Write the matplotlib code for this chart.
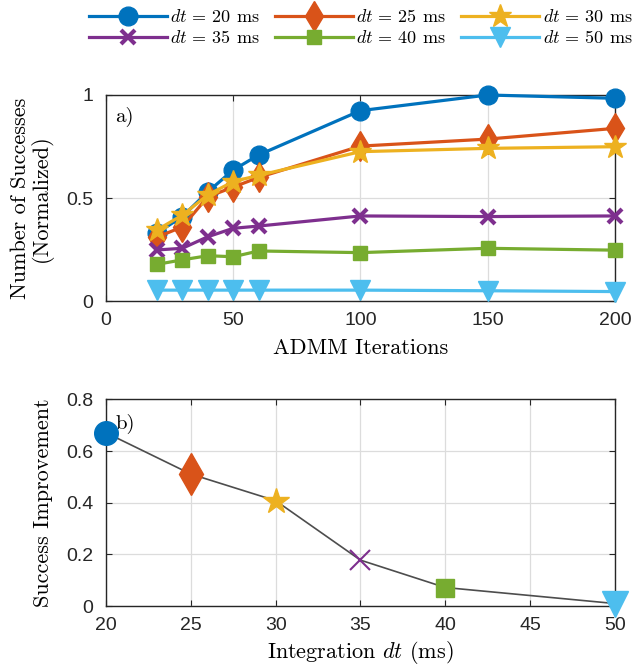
import matplotlib
matplotlib.use("Agg")
import matplotlib.pyplot as plt

plt.rcParams['font.family'] = 'serif'
plt.rcParams['font.serif'] = ['cmr10']
plt.rcParams['mathtext.fontset'] = 'cm'

# top panel data
iters = [20, 30, 40, 50, 60, 100, 150, 200]
dts = [20, 25, 30, 35, 40, 50]
succ_20 = [0.33, 0.41, 0.53, 0.636, 0.709, 0.924, 1.0, 0.984]
succ_25 = [0.31, 0.36, 0.506, 0.553, 0.60, 0.752, 0.786, 0.838]
succ_30 = [0.345, 0.417, 0.515, 0.58, 0.61, 0.725, 0.741, 0.749]
succ_35 = [0.248, 0.256, 0.312, 0.353, 0.364, 0.413, 0.41, 0.413]
succ_40 = [0.178, 0.20, 0.22, 0.215, 0.243, 0.235, 0.256, 0.247]
succ_50 = [0.053, 0.053, 0.053, 0.053, 0.053, 0.053, 0.05, 0.046]

# bottom panel data
improvement = [0.671, 0.511, 0.408, 0.178, 0.072, 0.01]

top_xticks = [0, 50, 100, 150, 200]
top_yticks = [0, 0.5, 1]
top_ylabels = ['0', '0.5', '1']
bot_xticks = [20, 25, 30, 35, 40, 45, 50]
bot_yticks = [0, 0.2, 0.4, 0.6, 0.8]
bot_ylabels = ['0', '0.2', '0.4', '0.6', '0.8']

colors = ['#0072BD', '#D95319', '#EDB120', '#7E2F8E', '#77AC30', '#4DBEEE']
markers = ['o', 'd', '*', 'x', 's', 'v']
top_ms = [13.5, 15, 17, 10, 10, 14]
bot_ms = [17, 21, 19, 14, 13, 19]
series = [succ_20, succ_25, succ_30, succ_35, succ_40, succ_50]
FS = 16
TICKFONT = dict(family='Liberation Sans', size=14, color='#262626')

fig = plt.figure(figsize=(6.36, 6.69), dpi=100)
ax1 = fig.add_axes([0.1667, 0.550, 0.800, 0.308])
ax2 = fig.add_axes([0.1667, 0.094, 0.800, 0.309])

for i in range(len(dts)):
    mew = 3 if markers[i] == 'x' else 1
    ax1.plot(iters, series[i], color=colors[i], marker=markers[i], lw=2.3,
             ms=top_ms[i], mew=mew, clip_on=False, zorder=3 + i,
             label=f'$dt$ = {dts[i]} ms')

ax1.set_xlim(0, 200)
ax1.set_ylim(0, 1)
ax1.set_xticks(top_xticks)
ax1.set_xticklabels([str(v) for v in top_xticks], **TICKFONT)
ax1.set_yticks(top_yticks)
ax1.set_yticklabels(top_ylabels, **TICKFONT)
ax1.set_xlabel('ADMM Iterations', fontsize=FS)
ax1.set_ylabel('Number of Successes\n(Normalized)', fontsize=FS, linespacing=1.0)
ax1.xaxis.set_label_coords(0.5, -0.18)
ax1.yaxis.set_label_coords(-0.104, 0.5)
ax1.text(0.018, 0.893, 'a)', transform=ax1.transAxes, fontsize=15, va='center')

ax2.plot(dts, improvement, color='#4d4d4d', lw=1.2, zorder=3)
for i in range(len(dts)):
    mew = 1.5 if markers[i] == 'x' else 1
    ax2.plot(dts[i], improvement[i], color=colors[i], marker=markers[i],
             ms=bot_ms[i], mew=mew, ls='none', clip_on=False, zorder=4)
ax2.set_xlim(20, 50)
ax2.set_ylim(0, 0.8)
ax2.set_xticks(bot_xticks)
ax2.set_xticklabels([str(v) for v in bot_xticks], **TICKFONT)
ax2.set_yticks(bot_yticks)
ax2.set_yticklabels(bot_ylabels, **TICKFONT)
ax2.set_xlabel('Integration $dt$ (ms)', fontsize=FS)
ax2.set_ylabel('Success Improvement', fontsize=FS)
ax2.xaxis.set_label_coords(0.5, -0.16)
ax2.yaxis.set_label_coords(-0.104, 0.5)
ax2.text(0.018, 0.88, 'b)', transform=ax2.transAxes, fontsize=15, va='center')

for ax in (ax1, ax2):
    ax.grid(True, color='#dcdcdc', lw=0.9)
    ax.set_axisbelow(True)
    ax.tick_params(direction='in', top=True, right=True,
                   color='#262626', length=4)
    ax.tick_params(axis='x', pad=8)
    ax.tick_params(axis='y', pad=9)
    for s in ax.spines.values():
        s.set_color('#262626')
        s.set_linewidth(1.0)

handles, labels = ax1.get_legend_handles_labels()
order = [0, 3, 1, 4, 2, 5]
fig.legend([handles[k] for k in order], [labels[k] for k in order],
           loc='upper center', bbox_to_anchor=(0.567, 1.012), ncol=3,
           frameon=False, fontsize=13, handlelength=4.3, handletextpad=0.2,
           columnspacing=0.85, labelspacing=0.2)

fig.savefig('out.png', dpi=100)
